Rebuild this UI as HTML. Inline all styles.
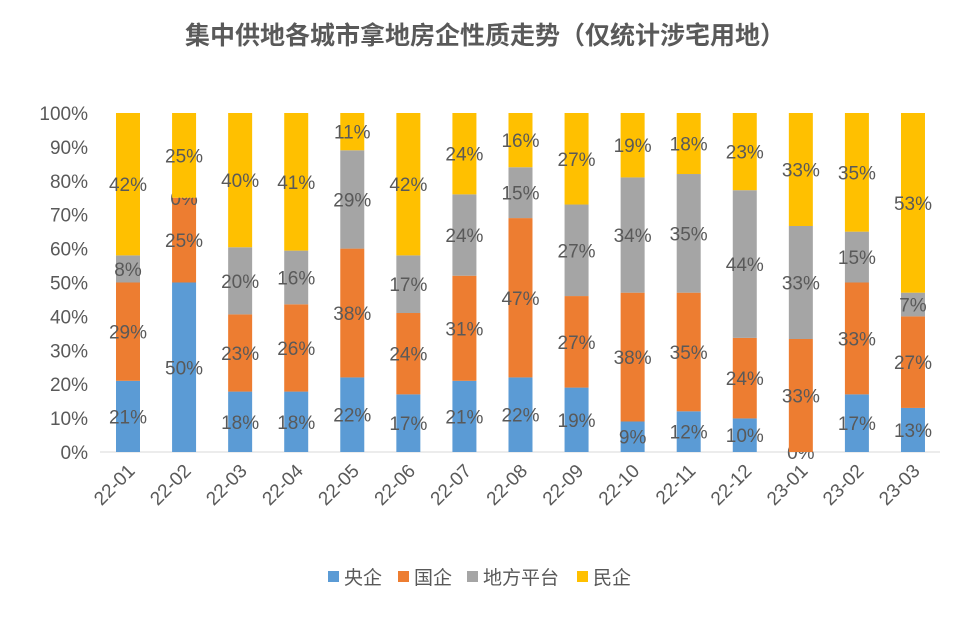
<!DOCTYPE html>
<html><head><meta charset="utf-8"><style>
body{margin:0;background:#fff;width:969px;height:612px;overflow:hidden;font-family:"Liberation Sans","Noto Sans CJK SC",sans-serif}
</style></head><body>
<svg id="chart" width="969" height="612" xmlns="http://www.w3.org/2000/svg">
<text x="485" y="44" text-anchor="middle" font-size="25" font-weight="bold" fill="#595959" font-family="Liberation Sans, Noto Sans CJK SC, sans-serif">集中供地各城市拿地房企性质走势（仅统计涉宅用地）</text>
<g id="axes"></g><g id="bars"></g><g id="legend"></g>
</svg>
<script>
const categories=["22-01","22-02","22-03","22-04","22-05","22-06","22-07","22-08","22-09","22-10","22-11","22-12","23-01","23-02","23-03"];
const central=[21,50,18,18,22,17,21,22,19,9,12,10,0,17,13];
const stateOwned=[29,25,23,26,38,24,31,47,27,38,35,24,33,33,27];
const platform=[8,0,20,16,29,17,24,15,27,34,35,44,33,15,7];
const privateCo=[42,25,40,41,11,42,24,16,27,19,18,23,33,35,53];
const yTicks=["0%","10%","20%","30%","40%","50%","60%","70%","80%","90%","100%"];
const seriesNames=["央企","国企","地方平台","民企"];
const colors=["#5B9BD5","#ED7D31","#A5A5A5","#FFC000"];
const NS="http://www.w3.org/2000/svg";
const y0=452,y1=113,x0=128,dx=56.07,bw=24;
const yS=p=>y0-(y0-y1)*p/100;
const xS=i=>x0+i*dx;
function mk(t,a,p){const e=document.createElementNS(NS,t);for(const k in a)e.setAttribute(k,a[k]);p.appendChild(e);return e;}
const axes=document.getElementById('axes');
yTicks.forEach((t,i)=>{
 const e=mk('text',{x:88,y:yS(i*10)+7,'text-anchor':'end','font-size':19,fill:'#595959'},axes);
 
 
 e.textContent=t;
});
const bl=mk('line',{x1:100,x2:940,y1:y0,y2:y0,stroke:'#d9d9d9'},axes);


const bars=document.getElementById('bars');
const series=[central,stateOwned,platform,privateCo];
categories.forEach((c,i)=>{
 const vals=series.map(s=>s[i]);const tot=vals.reduce((a,b)=>a+b,0);
 let cum=0;
 vals.forEach((v,k)=>{
  const a=cum/tot*100,b=(cum+v)/tot*100;cum+=v;
  const r=mk('rect',{x:xS(i)-bw/2,y:yS(b),width:bw,height:yS(a)-yS(b),fill:colors[k]},bars);
  
  
  const t=mk('text',{x:xS(i),y:(yS(a)+yS(b))/2+7,'text-anchor':'middle','font-size':19,fill:'#595959'},bars);
  
  
  t.textContent=v+'%';
 });
 const l=mk('text',{x:0,y:0,'text-anchor':'end','font-size':19,fill:'#595959',transform:`translate(${xS(i)+8},${y0+20}) rotate(-45)`},bars);
 
 
 l.textContent=c;
});
const lg=document.getElementById('legend');
const lx=[328,398,467,577];
seriesNames.forEach((n,k)=>{
 const r=mk('rect',{x:lx[k],y:571,width:11,height:11,fill:colors[k]},lg);
 
 
 const t=mk('text',{x:lx[k]+16,y:584,'font-size':19,fill:'#595959'},lg);
 
 
 t.textContent=n;
});
</script>
</body></html>
